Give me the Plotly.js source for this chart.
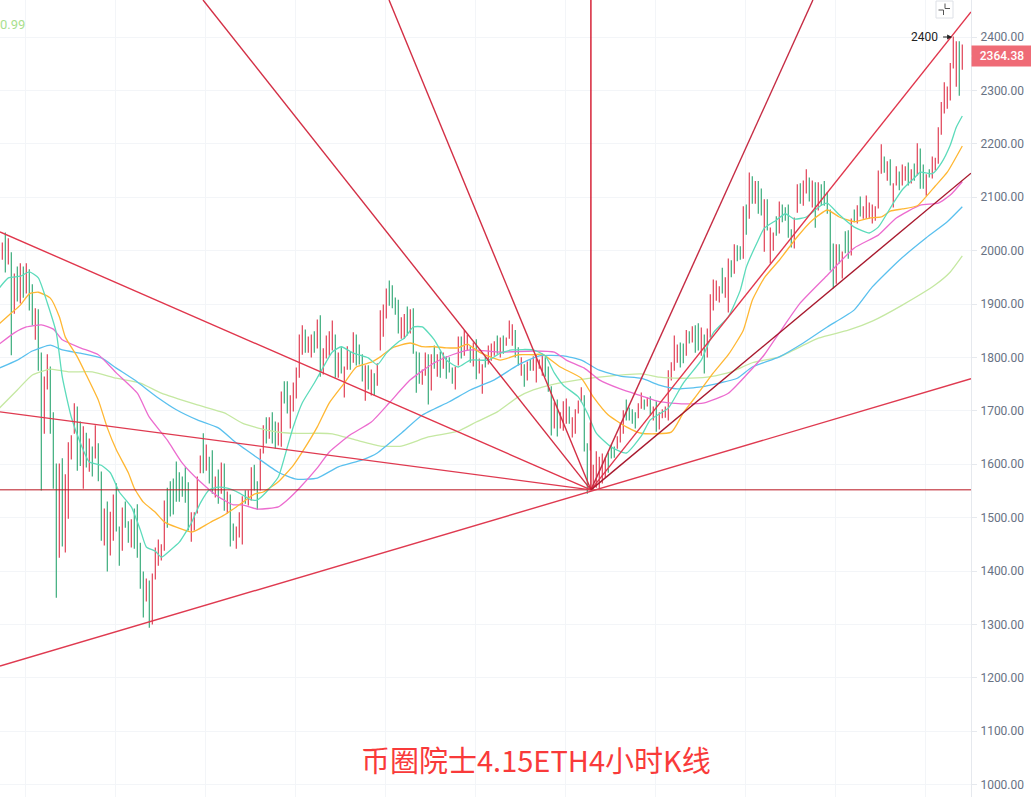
<!DOCTYPE html>
<html>
<head>
<meta charset="utf-8">
<script src="https://cdn.plot.ly/plotly-3.0.1.min.js"></script>
<style>html,body{margin:0;padding:0;background:#fff;overflow:hidden}#chart{width:1031px;height:797px}</style>
</head>
<body>
<div id="chart"></div>
<script>
// ---------- candles: one high, one low and one direction per 4-hour bar ----------
const highs = [2014,2033,2022,1996,1956,1969,1975,1969,1975,1964,
1936,1891,1889,1808,1763,1805,1782,1696,1600,1600,
1610,1580,1640,1653,1713,1707,1679,1670,1658,1647,
1632,1672,1638,1585,1516,1529,1510,1542,1563,1482,
1518,1529,1492,1496,1516,1524,1452,1398,1385,1381,
1394,1443,1458,1449,1531,1555,1567,1572,1604,1584,
1576,1593,1565,1509,1509,1576,1615,1657,1636,1613,
1625,1576,1589,1602,1600,1548,1542,1488,1482,1509,
1539,1550,1550,1593,1598,1567,1628,1672,1687,1687,
1696,1679,1677,1735,1754,1754,1728,1752,1780,1842,
1859,1851,1838,1842,1848,1870,1878,1816,1840,1848,
1868,1842,1808,1818,1782,1820,1810,1846,1842,1823,
1805,1784,1784,1776,1769,1788,1887,1898,1928,1943,
1934,1911,1907,1874,1880,1894,1889,1891,1810,1808,
1776,1808,1805,1805,1821,1805,1810,1808,1801,1799,
1780,1782,1838,1838,1850,1842,1820,1827,1833,1797,
1786,1801,1821,1825,1829,1840,1836,1840,1836,1868,
1861,1850,1818,1799,1786,1791,1795,1801,1805,1795,
1805,1799,1782,1745,1715,1720,1696,1717,1722,1707,
1687,1702,1718,1743,1728,1638,1677,1598,1623,1613,
1619,1612,1621,1636,1632,1651,1677,1700,1720,1705,
1702,1696,1713,1733,1720,1724,1726,1707,1717,1696,
1702,1707,1775,1790,1840,1823,1827,1825,1850,1848,
1857,1859,1863,1855,1842,1853,1917,1945,1943,1932,
1967,1949,1984,1981,2011,2009,2007,2082,2085,2145,
2138,2129,2129,2115,2095,2095,2042,2033,2063,2091,
2085,2080,2085,2039,2061,2123,2125,2130,2151,2136,
2130,2127,2127,2123,2129,2108,2076,2012,2011,2011,
1997,2035,2037,2059,2076,2084,2100,2082,2102,2089,
2085,2082,2149,2198,2175,2166,2170,2125,2157,2147,
2160,2157,2164,2151,2162,2200,2190,2160,2142,2151,
2175,2173,2230,2277,2314,2306,2350,2400,2391,2391,
2385];
const lows = [1984,1960,1975,1805,1883,1906,1902,1913,1921,1889,
1861,1834,1776,1552,1658,1741,1658,1555,1351,1426,
1447,1436,1499,1610,1658,1589,1598,1555,1595,1587,
1578,1612,1569,1458,1449,1400,1430,1458,1475,1411,
1439,1482,1454,1445,1443,1426,1368,1314,1344,1295,
1301,1385,1411,1421,1439,1482,1503,1507,1531,1531,
1540,1529,1477,1456,1477,1509,1584,1584,1589,1565,
1546,1539,1527,1546,1514,1509,1447,1458,1443,1464,
1451,1527,1524,1533,1552,1516,1552,1621,1640,1649,
1640,1630,1636,1634,1715,1696,1668,1700,1724,1763,
1806,1810,1810,1801,1810,1818,1765,1769,1799,1804,
1814,1763,1763,1771,1726,1778,1778,1791,1786,1788,
1756,1720,1741,1730,1730,1748,1814,1840,1874,1898,
1893,1881,1846,1836,1836,1842,1846,1808,1735,1752,
1750,1767,1713,1739,1780,1765,1763,1780,1761,1773,
1752,1741,1786,1799,1804,1814,1791,1784,1760,1771,
1733,1782,1788,1795,1804,1808,1801,1808,1823,1836,
1823,1801,1786,1767,1746,1758,1776,1776,1754,1780,
1767,1765,1737,1655,1668,1653,1668,1664,1677,1677,
1651,1658,1696,1717,1625,1546,1627,1555,1557,1555,
1565,1576,1585,1612,1613,1630,1642,1658,1683,1683,
1677,1668,1687,1705,1703,1709,1692,1683,1662,1666,
1687,1688,1683,1758,1776,1791,1782,1790,1804,1827,
1829,1810,1814,1804,1771,1801,1838,1889,1907,1904,
1921,1913,1885,1951,1958,1981,1984,1986,2031,2061,
2089,2089,2070,2067,1999,2039,1977,2001,2029,2033,
2054,2057,2025,2007,2005,2072,2089,2085,2108,2093,
2082,2044,2076,2085,2085,2070,1964,1930,1939,1977,
1949,1996,1986,1992,2054,2052,2065,2061,2061,2061,
2052,2057,2080,2145,2147,2132,2123,2082,2123,2114,
2123,2132,2123,2127,2132,2142,2117,2117,2104,2138,
2136,2151,2164,2218,2258,2267,2282,2342,2308,2291,
2340];
// u = red bar, d = green bar, ten bars per row
const directionRows = [
"ududududud","dudduudddu","duuuuddudu","dudduduudd","udduddddud",
"uuuuuddddd","ddduuuudud","dudududduu","uduudduudu","dduudduuuu",
"uduududuuu","ududuududd","dududuuuud","ddduududdd","uududududd",
"duuduududu","uduuududuu","uddududuuu","uddduduuud","uuuudduuuu",
"uuddduuudd","dduudududu","uuuuuuddud","udduduuuuu","duududdudu",
"dudduduudu","dddduuduud","ududddddud","uddududuuu","uuuududuud",
"uudududdud","uuuuuuuuud","u"];

// ---------- moving averages: bar number and price read at each turn of the line ----------
const tealBars = [-1,2,6,9,12,15,18,20,23,26,29,33,36,39,43,46,48,51,53,56,59,63,66,69,72,75,79,83,85,88,92,95,97,100,104,107,110,113,117,122,125,128,132,134,137,140,144,148,152,156,162,166,170,177,181,184,187,192,195,198,203,208,213,216,222,227,233,237,242,246,248,252,254,258,261,264,268,273,275,279,284,289,292,297,300,304,306,310,313,316,318,320];
const tealVals = [1930,1949,1952,1960,1949,1902,1846,1763,1688,1640,1604,1598,1584,1548,1520,1477,1445,1437,1426,1439,1454,1490,1527,1552,1557,1555,1546,1533,1533,1548,1576,1632,1670,1715,1752,1782,1810,1820,1808,1799,1786,1808,1829,1836,1857,1857,1833,1795,1782,1795,1795,1808,1814,1814,1803,1771,1748,1726,1696,1658,1632,1621,1653,1683,1705,1752,1795,1846,1876,1926,1969,2020,2042,2057,2069,2059,2063,2085,2089,2067,2044,2033,2044,2089,2114,2136,2147,2144,2164,2198,2231,2252];
const orangeBars = [-1,3,6,9,12,16,19,21,25,28,32,35,38,42,44,47,51,54,58,63,65,69,74,78,84,87,92,97,101,105,109,114,118,123,126,130,136,140,144,148,152,155,159,166,172,177,180,186,193,197,202,208,213,223,227,232,237,242,247,250,254,259,265,270,275,279,284,289,293,296,300,305,311,315,320];
const orangeVals = [1863,1883,1898,1919,1922,1911,1876,1838,1801,1767,1720,1668,1627,1584,1555,1529,1510,1492,1482,1473,1477,1490,1505,1520,1544,1548,1567,1598,1632,1670,1715,1752,1782,1791,1801,1818,1827,1820,1820,1818,1818,1825,1810,1795,1805,1805,1806,1782,1761,1726,1692,1670,1658,1660,1696,1733,1771,1805,1851,1907,1949,1982,2026,2057,2076,2063,2054,2061,2063,2074,2078,2084,2121,2147,2196];
const pinkBars = [-1,4,8,13,17,20,26,32,38,45,49,55,60,66,72,77,80,85,92,95,99,105,109,116,123,129,136,144,150,156,166,177,184,188,194,199,206,213,219,227,234,242,248,254,259,266,275,284,292,298,306,312,316,320];
const pinkVals = [1825,1846,1857,1861,1853,1833,1818,1805,1771,1733,1688,1645,1602,1567,1539,1524,1524,1516,1520,1533,1555,1593,1623,1655,1679,1715,1758,1790,1805,1814,1810,1812,1810,1795,1780,1758,1741,1728,1717,1713,1715,1733,1767,1805,1846,1902,1954,2005,2029,2061,2085,2089,2104,2129];
const blueBars = [-1,5,10,16,20,26,33,38,44,52,58,65,72,78,85,92,98,105,112,120,125,133,140,149,156,164,172,179,187,193,199,206,213,219,225,233,239,245,250,259,267,275,284,290,299,308,315,320];
const blueVals = [1780,1795,1812,1823,1814,1808,1799,1780,1758,1724,1702,1683,1668,1640,1612,1585,1572,1574,1595,1608,1621,1658,1692,1717,1739,1758,1786,1803,1803,1795,1776,1765,1761,1748,1741,1745,1752,1761,1782,1801,1827,1857,1889,1932,1982,2024,2054,2082];
const limeBars = [-1,5,10,16,22,30,38,46,53,65,74,80,88,96,105,110,118,126,133,142,152,158,165,172,177,184,192,199,213,219,226,235,243,250,259,272,282,290,300,311,316,320];
const limeVals = [1705,1739,1767,1778,1773,1773,1761,1752,1733,1711,1696,1677,1664,1658,1658,1657,1645,1634,1634,1651,1662,1679,1698,1726,1739,1750,1758,1763,1769,1763,1761,1763,1773,1790,1801,1836,1851,1868,1898,1936,1960,1990];

// ---------- fan drawn from the 1552 low: far end of each ray as bar number and price ----------
const fanOriginBar = 196.2;
const fanOriginPrice = 1552;
const fanEndBars = [128.9, 66.9, -0.78, -0.78, 270.2, 322.9, 322.9, 196.2];
const fanEndPrices = [2469.3, 2469.3, 2035, 1698, 2469.3, 2447, 2145, 2469.3];
const fanColors = ["#d32f45","#d32f45","#e0364c","#df3a50","#c62c44","#e0364c","#a8192e","#d3142a"];
const supportBars = [-0.78, 322.9];
const supportPrices = [1222, 1760];
const baseBars = [-0.78, 322.9];
const basePrices = [1552, 1552];

// ---------- labels ----------
const lastPrice = 2364.38;
const peakPrice = 2400;
const titleText = "币圈院士4.15ETH4小时K线";
const cornerValue = "0.99";

const directions = directionRows.join("");
const bars = highs.map((_, i) => i);
const isUp = i => directions[i] === "u";
const traces = [];
traces.push({
  type: "candlestick", x: bars,
  open: bars.map(i => isUp(i) ? lows[i] : highs[i]),
  close: bars.map(i => isUp(i) ? highs[i] : lows[i]),
  high: highs, low: lows,
  whiskerwidth: 0,
  increasing: {line: {color: "#E24A5E", width: 1.2}, fillcolor: "#E24A5E"},
  decreasing: {line: {color: "#44B082", width: 1.2}, fillcolor: "#44B082"},
  showlegend: false, hoverinfo: "skip"
});
function ma(x, y, color) {
  traces.push({type: "scatter", mode: "lines", x, y, showlegend: false, hoverinfo: "skip",
    line: {color, width: 1.3, shape: "spline", smoothing: 0.5}});
}
ma(limeBars, limeVals, "#C5E8A2");
ma(blueBars, blueVals, "#5AC0EE");
ma(pinkBars, pinkVals, "#EC6CCF");
ma(orangeBars, orangeVals, "#FFB733");
ma(tealBars, tealVals, "#5CDBBB");
function ray(x, y, color, width) {
  traces.push({type: "scatter", mode: "lines", x, y, showlegend: false, hoverinfo: "skip",
    line: {color, width: width || 1.4}});
}
ray(baseBars, basePrices, "#B8141F", 1);
ray(supportBars, supportPrices, "#DF3A50");
fanEndBars.forEach((b, k) => ray([fanOriginBar, b], [fanOriginPrice, fanEndPrices[k]], fanColors[k]));

const H = 797, PW = 971;
const px = v => v / PW, py = v => 1 - v / H;
const layout = {
  width: 1031, height: 797,
  margin: {l: 0, r: 60, t: 0, b: 0, pad: 0},
  paper_bgcolor: "#fff", plot_bgcolor: "#fff",
  showlegend: false, dragmode: false,
  boxgap: 0.98, boxgroupgap: 0,
  font: {family: "Roboto, sans-serif"},
  xaxis: {range: [-0.777, 322.9], rangeslider: {visible: false}, showticklabels: false,
    tick0: 7.72, dtick: 30, tickmode: "linear", ticks: "", showgrid: true, gridcolor: "#F3F5F8", gridwidth: 1,
    zeroline: false, showline: false, fixedrange: true},
  yaxis: {range: [976.8, 2469.3], side: "right", tick0: 1000, dtick: 100, tickmode: "linear",
    tickformat: ".2f", showgrid: true, gridcolor: "#F3F5F8", gridwidth: 1, zeroline: false,
    showline: true, linecolor: "#E6E9EE", linewidth: 1, ticks: "outside", ticklen: 5, tickcolor: "#E6E9EE",
    tickfont: {family: "Roboto, sans-serif", size: 12, color: "#687284"}, ticklabelstandoff: 1, fixedrange: true},
  annotations: [
    {xref: "paper", yref: "y", x: 1, y: lastPrice, xanchor: "left", yanchor: "middle", text: lastPrice.toFixed(2),
     showarrow: false, bgcolor: "#EF6B76", width: 60, height: 20, borderpad: 0, align: "center",
     font: {family: "Roboto, sans-serif", size: 12, color: "#fff", weight: 500}},
    {xref: "x", yref: "y", x: 316.6, y: peakPrice, text: String(peakPrice), ax: -28, ay: 0,
     showarrow: true, arrowhead: 2, arrowsize: 1, arrowwidth: 1, arrowcolor: "#222", startstandoff: 4,
     font: {family: "Roboto, sans-serif", size: 12, color: "#222"}},
    {xref: "paper", yref: "paper", x: 0, y: py(24), xanchor: "left", yanchor: "middle", text: cornerValue, xshift: -2,
     showarrow: false, font: {family: "Roboto, sans-serif", size: 13, color: "#A9E08E"}},
    {xref: "paper", yref: "paper", x: px(535.5), y: py(759), xanchor: "center", yanchor: "middle", text: titleText,
     showarrow: false, font: {family: "'Noto Sans CJK SC', sans-serif", size: 29, color: "#F93A3A"}}
  ],
  shapes: [
    {type: "rect", xref: "paper", yref: "paper", x0: px(936), x1: px(953), y0: py(1), y1: py(18), line: {color: "#DDE0E6", width: 1}, fillcolor: "#fff"},
    {type: "path", xref: "paper", yref: "paper", path: `M${px(945)} ${py(3.5)} L${px(945)} ${py(8.5)} L${px(950)} ${py(8.5)}`, line: {color: "#555", width: 1}},
    {type: "path", xref: "paper", yref: "paper", path: `M${px(938.5)} ${py(10)} L${px(943.5)} ${py(10)} L${px(943.5)} ${py(15)}`, line: {color: "#555", width: 1}},
    {type: "line", xref: "paper", yref: "y", x0: 1, x1: 1 + 6 / PW, y0: lastPrice, y1: lastPrice, line: {color: "#fff", width: 1}}
  ]
};
Plotly.newPlot("chart", traces, layout, {displayModeBar: false, staticPlot: true});
</script>
</body>
</html>
